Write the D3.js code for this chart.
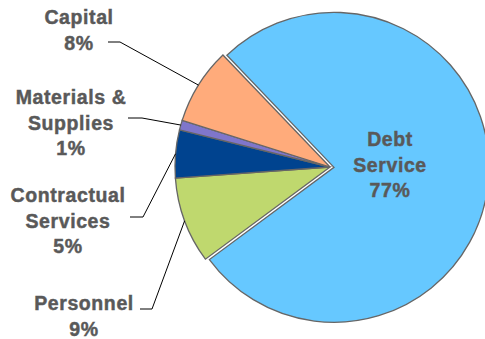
<!DOCTYPE html>
<html>
<head>
<meta charset="utf-8">
<script src="https://cdn.jsdelivr.net/npm/d3@7"></script>
<style>
  html, body { margin: 0; padding: 0; background: #fff; }
  svg { display: block; }
  text { font-family: "Liberation Sans", Arial, Helvetica, sans-serif; font-weight: bold; }
</style>
</head>
<body>
<svg id="chart" width="485" height="339"></svg>
<script>
// Budget shares by expense category (percent)
const categories = ["Debt Service", "Personnel", "Contractual Services", "Materials & Supplies", "Capital"];
const shares = [77, 9, 5, 1, 8];
const labelLines = [["Debt", "Service"], ["Personnel"], ["Contractual", "Services"], ["Materials &", "Supplies"], ["Capital"]];
const colors = ["#66c8ff", "#bfd86e", "#00438f", "#7f76cb", "#ffab7b"];

const width = 485, height = 339;
const cx = 330, cy = 167, radius = 155;
const explode = 4;            // the largest slice is pulled out slightly
const lineGap = 25.5;

// Label placement: text centre x, first baseline y, leader elbow and leader end x
const labelLayout = [
  { x: 390, y: 146, inside: true },
  { x: 84, y: 310, elbowX: 152, elbowY: 309, endX: 140 },
  { x: 68, y: 202, elbowX: 143, elbowY: 217, endX: 130 },
  { x: 71, y: 104, elbowX: 142, elbowY: 118, endX: 128 },
  { x: 79, y: 24, elbowX: 120, elbowY: 42, endX: 108 }
];

const data = categories.map((c, i) => ({ name: c, value: shares[i], lines: labelLines[i], color: colors[i], layout: labelLayout[i] }));

const startDeg = -43.7;
const pie = d3.pie()
  .sort(null)
  .value(d => d.value)
  .startAngle(startDeg * Math.PI / 180)
  .endAngle(startDeg * Math.PI / 180 + 2 * Math.PI);

const arc = d3.arc().innerRadius(0).outerRadius(radius);
const arcs = pie(data);

const svg = d3.select("#chart");
const g = svg.append("g").attr("transform", `translate(${cx},${cy})`);

g.selectAll("path.slice")
  .data(arcs)
  .join("path")
  .attr("class", "slice")
  .attr("transform", (d, i) => {
    if (i !== 0) return null;
    const mid = (d.startAngle + d.endAngle) / 2;
    return `translate(${explode * Math.sin(mid)},${-explode * Math.cos(mid)})`;
  })
  .attr("d", arc)
  .attr("fill", d => d.data.color)
  .attr("stroke", "#666")
  .attr("stroke-width", 1.3)
  .attr("stroke-linejoin", "miter");

// Leader lines from slice edge to the labels
const leaders = arcs.filter(d => !d.data.layout.inside);
svg.selectAll("path.leader")
  .data(leaders)
  .join("path")
  .attr("class", "leader")
  .attr("fill", "none")
  .attr("stroke", "#000")
  .attr("stroke-width", 1)
  .attr("d", d => {
    const mid = (d.startAngle + d.endAngle) / 2;
    const px = cx + radius * Math.sin(mid);
    const py = cy - radius * Math.cos(mid);
    const L = d.data.layout;
    return d3.line()([[px, py], [L.elbowX, L.elbowY], [L.endX, L.elbowY]]);
  });

// Category labels with percentages
const labels = svg.selectAll("text.label")
  .data(arcs)
  .join("text")
  .attr("class", "label")
  .attr("text-anchor", "middle")
  .attr("fill", "#595959")
  .attr("stroke", "#595959")
  .attr("stroke-width", 0.45)
  .style("font-size", "19.5px")
  .style("letter-spacing", "0.6px");

labels.each(function(d) {
  const t = d3.select(this);
  const L = d.data.layout;
  const lines = d.data.lines.concat([d3.format("d")(d.data.value) + "%"]);
  lines.forEach((s, k) => {
    t.append("tspan")
      .attr("x", L.x)
      .attr("y", L.y + k * lineGap)
      .text(s);
  });
});
</script>
</body>
</html>
